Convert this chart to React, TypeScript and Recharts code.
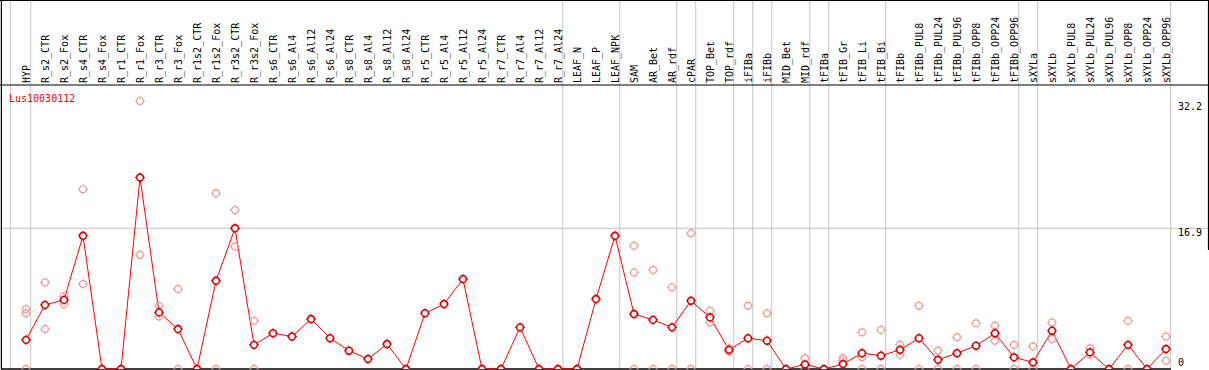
import React from "react";
import { ComposedChart, Line, XAxis, YAxis, ReferenceLine, LabelList } from "recharts";

const labels = [
  "HYP", "R_s2_CTR", "R_s2_Fox", "R_s4_CTR", "R_s4_Fox", "R_r1_CTR", "R_r1_Fox", "R_r3_CTR", "R_r3_Fox",
  "R_r1s2_CTR", "R_r1s2_Fox", "R_r3s2_CTR", "R_r3s2_Fox", "R_s6_CTR", "R_s6_Al4", "R_s6_Al12", "R_s6_Al24",
  "R_s8_CTR", "R_s8_Al4", "R_s8_Al12", "R_s8_Al24", "R_r5_CTR", "R_r5_Al4", "R_r5_Al12", "R_r5_Al24",
  "R_r7_CTR", "R_r7_Al4", "R_r7_Al12", "R_r7_Al24", "LEAF_N", "LEAF_P", "LEAF_NPK", "SAM", "AR_Bet", "AR_rdf",
  "cPAR", "TOP_Bet", "TOP_rdf", "iFIBa", "iFIBb", "MID_Bet", "MID_rdf", "tFIBa", "tFIB_Gr", "tFIB_Li", "tFIB_Bi",
  "tFIBb", "tFIBb_PUL8", "tFIBb_PUL24", "tFIBb_PUL96", "tFIBb_OPP8", "tFIBb_OPP24", "tFIBb_OPP96",
  "sXYLa", "sXYLb", "sXYLb_PUL8", "sXYLb_PUL24", "sXYLb_PUL96", "sXYLb_OPP8", "sXYLb_OPP24", "sXYLb_OPP96",
];

const meanValues = [
  3.5, 7.7, 8.3, 16.0, 0, 0, 23.0, 6.8, 4.8, 0, 10.6, 16.9, 2.9, 4.3, 3.9, 6.0, 3.7,
  2.2, 1.2, 3.0, 0, 6.7, 7.8, 10.8, 0, 0, 5.0, 0, 0, 0, 8.4, 16.0, 6.6, 5.9, 5.0,
  8.2, 6.2, 2.3, 3.7, 3.4, 0, 0.55, 0, 0.6, 1.9, 1.6,
  2.3, 3.7, 1.1, 1.9, 2.8, 4.3, 1.4,
  0.8, 4.6, 0, 2.0, 0, 2.9, 0, 2.4,
];

const rep1 = [
  7.2, 10.4, 8.7, 21.6, null, null, 32.2, 7.6, 9.6, null, 21.1, 19.1, 5.8, null, null, null, null,
  null, null, null, null, null, null, null, null, null, null, null, null, null, null, null, 14.8, 11.9, 9.8,
  16.3, 7.0, 2.5, 7.6, 6.7, null, 1.3, null, 1.3, 4.4, 4.7,
  2.9, 7.6, 2.2, 3.8, 5.5, 5.2, 2.9,
  2.7, 5.6, null, 2.5, null, 5.8, null, 3.9,
];

const rep2 = [
  6.7, 4.8, 7.8, 10.2, null, null, 13.7, 6.3, 0, null, 0, 14.7, 0, null, null, null, null,
  null, null, null, null, null, null, null, null, null, null, null, null, null, null, null, 11.6, 0, 0,
  0, 5.6, 2.1, 0, 0, null, 0, null, 1.0, 1.4, 0,
  1.7, 0, 0, 0, 0, 3.4, 0,
  0, 3.6, null, 1.7, null, 0, null, 1.0,
];

const rep3 = [
  0, null, null, null, null, null, null, null, null, null, null, null, null, null, null, null, null,
  null, null, null, null, null, null, null, null, null, null, null, null, null, null, null, 0, null, null,
  null, null, null, null, null, null, null, null, null, 0, null,
  null, null, null, null, null, null, null,
  null, null, null, null, null, null, null, null,
];

const groupStarts = [1, 29, 32, 35, 36, 38, 39, 40, 42, 43, 46, 53, 54];
const yTicks = [0, 16.9, 32.2];
const seriesName = "Lus10030112";

const data = labels.map((name, i) => ({
  idx: i,
  name,
  mean: meanValues[i],
  r1: rep1[i],
  r2: rep2[i],
  r3: rep3[i],
}));

const W = 1209;
const H = 370;
const STEP = 19;
const X_MIN = -25 / STEP;
const PLOT_W = 1170;
const X_MAX = X_MIN + PLOT_W / STEP;
const PLOT_H = 369;
const PX_PER_UNIT = 140.7 / 16.9;
const Y_MAX = PLOT_H / PX_PER_UNIT;
const TOP_LINE = (PLOT_H - 85) / PX_PER_UNIT;
const FONT = "'DejaVu Sans Mono', monospace";

const tickPath = (cx: number, cy: number, r: number) =>
  `M${cx} ${cy - r - 1.6}V${cy - r + 0.4}M${cx} ${cy + r - 0.4}V${cy + r + 1.6}M${cx - r - 1.6} ${cy}H${cx - r + 0.4}M${cx + r - 0.4} ${cy}H${cx + r + 1.6}`;

const makeDot = (stroke: string, fill: string, sw: number) => (props: any) => {
  const { cx, cy, value, index } = props;
  if (cx == null || cy == null || value == null || Number.isNaN(cy)) return <g key={`d${index}`} />;
  const r = 3.4;
  return (
    <g key={`d${index}`}>
      <circle cx={cx} cy={cy} r={r} fill={fill} stroke={stroke} strokeWidth={sw} />
      <path d={tickPath(cx, cy, r)} stroke={stroke} strokeWidth={1} />
    </g>
  );
};

const mainDot = makeDot("#e00000", "#ffffff", 1.6);
const repDot = makeDot("#ec9c9c", "none", 1.2);

const CatLabel = (props: any) => {
  const { x, index } = props;
  if (x == null) return null;
  const y0 = 83;
  return (
    <text
      x={x}
      y={y0}
      transform={`rotate(-90 ${x} ${y0})`}
      dy="0.36em"
      textAnchor="start"
      fontFamily={FONT}
      fontSize={10}
      fill="#000"
    >
      {labels[index]}
    </text>
  );
};

const yOffsets: Record<string, number> = { "0": -3.5, "16.9": 7.7, "32.2": 9 };

const YTick = (props: any) => {
  const { y, payload } = props;
  const v = payload.value;
  return (
    <text x={1178} y={y + (yOffsets[String(v)] ?? 4)} textAnchor="start" fontFamily={FONT} fontSize={10} fill="#000">
      {String(v)}
    </text>
  );
};

const TitleLabel = () => (
  <text x={9} y={101.5} fontFamily={FONT} fontSize={10} fill="#ff0000">
    {seriesName}
  </text>
);

export default function App() {
  const pxToIdx = (px: number) => X_MIN + (px - 1) / STEP;
  return (
    <div style={{ position: "absolute", left: 0, top: 0, width: W, height: H, background: "#fff" }}>
      <ComposedChart width={W} height={H} data={data} margin={{ top: 0, right: 0, bottom: H - PLOT_H, left: 1 }}>
        <XAxis
          type="number"
          dataKey="idx"
          orientation="top"
          height={0}
          domain={[X_MIN, X_MAX]}
          allowDataOverflow
          ticks={labels.map((_, i) => i)}
          interval={0}
          axisLine={false}
          tickLine={false}
          tick={false}
        />
        <YAxis
          type="number"
          orientation="right"
          width={W - 1 - PLOT_W}
          domain={[0, Y_MAX]}
          allowDataOverflow
          ticks={yTicks}
          interval={0}
          axisLine={false}
          tickLine={false}
          tick={<YTick />}
        />
        <ReferenceLine x={pxToIdx(10.3)} stroke="#c4c4c4" strokeWidth={1} ifOverflow="visible" />
        {groupStarts.map((s) => (
          <ReferenceLine key={`g${s}`} x={s - 0.75} stroke="#c4c4c4" strokeWidth={1} ifOverflow="visible" />
        ))}
        <ReferenceLine x={X_MAX - 0.02} stroke="#c4c4c4" strokeWidth={1} ifOverflow="visible" />
        <ReferenceLine
          segment={[{ x: X_MIN, y: 16.9 }, { x: pxToIdx(1208), y: 16.9 }]}
          stroke="#c4c4c4"
          strokeWidth={1}
          ifOverflow="visible"
        />
        <ReferenceLine
          segment={[{ x: pxToIdx(0), y: TOP_LINE }, { x: pxToIdx(1209), y: TOP_LINE }]}
          stroke="#000"
          strokeWidth={1.2}
          ifOverflow="visible"
          label={<TitleLabel />}
        />
        <ReferenceLine
          segment={[{ x: pxToIdx(0), y: Y_MAX - 0.5 / PX_PER_UNIT }, { x: pxToIdx(1209), y: Y_MAX - 0.5 / PX_PER_UNIT }]}
          stroke="#000"
          strokeWidth={1}
          ifOverflow="visible"
        />
        <ReferenceLine y={0} stroke="#000" strokeWidth={1.5} ifOverflow="visible" />
        <ReferenceLine x={X_MIN + 0.02} stroke="#000" strokeWidth={1.2} ifOverflow="visible" />
        <ReferenceLine
          segment={[{ x: pxToIdx(1208.5), y: Y_MAX }, { x: pxToIdx(1208.5), y: 14.3 }]}
          stroke="#000"
          strokeWidth={1.2}
          ifOverflow="visible"
        />
        <Line dataKey="r1" stroke="none" dot={repDot} activeDot={false} isAnimationActive={false} connectNulls={false} />
        <Line dataKey="r2" stroke="none" dot={repDot} activeDot={false} isAnimationActive={false} connectNulls={false} />
        <Line dataKey="r3" stroke="none" dot={repDot} activeDot={false} isAnimationActive={false} connectNulls={false} />
        <Line
          dataKey="mean"
          stroke="#ff0000"
          strokeWidth={1}
          dot={mainDot}
          activeDot={false}
          isAnimationActive={false}
        >
          <LabelList dataKey="name" content={<CatLabel />} />
        </Line>
      </ComposedChart>
    </div>
  );
}
